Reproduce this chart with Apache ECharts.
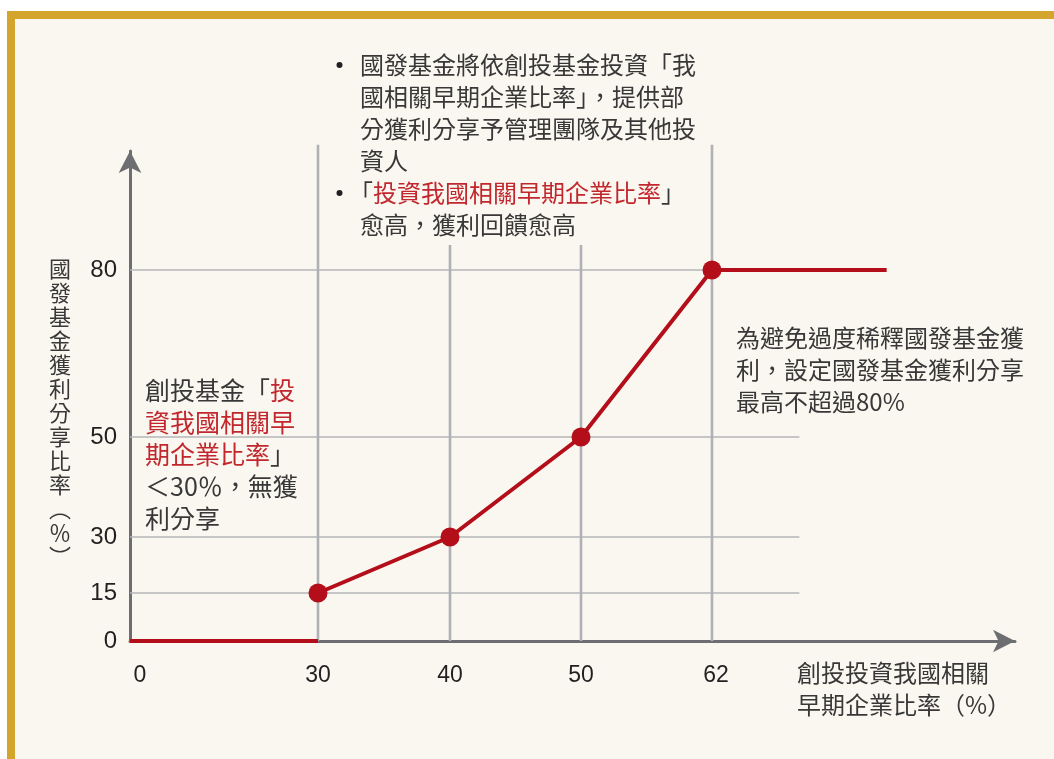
<!DOCTYPE html>
<html>
<head>
<meta charset="utf-8">
<script src="https://cdn.jsdelivr.net/npm/echarts@6/dist/echarts.min.js"></script>
<style>
  html, body { margin: 0; padding: 0; background: #ffffff; }
  #frame { position: absolute; left: 7px; top: 11px; right: 0; bottom: 0;
           border-top: 8px solid #d4a52c; border-left: 8px solid #d4a52c; background: #faf7f0; }
  #chart { position: absolute; left: 0; top: 0; width: 1054px; height: 759px; }
</style>
</head>
<body>
<div id="frame"></div>
<div id="chart"></div>
<script>
// ---- data ----
const xTicks = [0, 30, 40, 50, 62];
const yTicks = [0, 15, 30, 50, 80];
const zeroSegX = [0, 30];
const zeroSegY = [0, 0];
const curveX = [30, 40, 50, 62];
const curveY = [15, 30, 50, 80];
const capX = [62, 78];
const capY = [80, 80];

// ---- schematic (piecewise) layout of the axes ----
const X0 = 130, Y0 = 641;
const xTickPx = [0, 188, 320, 451, 582];
const yTickPx = [0, 48, 104, 204, 371];
const xAxisLen = 885, yAxisLen = 490;
const guideXEnd = 70;           // horizontal guides stop here (x data units)
const guideTopTall = 102.5;     // top of guides at 30 and 62 (y data units)
const guideTopShort = 84.5;     // top of guides at 40 and 50

function pw(v, d, p) {
  let i = 0;
  while (i < d.length - 2 && v > d[i + 1]) i++;
  return p[i] + (v - d[i]) * (p[i + 1] - p[i]) / (d[i + 1] - d[i]);
}
const mx = v => pw(v, xTicks, xTickPx);
const my = v => pw(v, yTicks, yTickPx);
const pts = (xs, ys) => xs.map((x, i) => [mx(x), my(ys[i])]);

function tickLabel(ticks, map, isX) {
  return function (val) {
    for (let i = 0; i < ticks.length; i++) {
      if (Math.abs(map(ticks[i]) - val) < 0.5) {
        if (isX && i === 0) return '{z|' + ticks[i] + '}';
        if (isX && i === ticks.length - 1) return '{e|' + ticks[i] + '}';
        return String(ticks[i]);
      }
    }
    return '';
  };
}

const RED = '#b30e19';
const TXT = '#383838';
const CJK = '"Noto Sans CJK TC", "Noto Sans CJK SC", sans-serif';
const NUM = '"Liberation Sans", Arial, sans-serif';

const series = [];
// horizontal guides
yTicks.slice(1).forEach(y => {
  series.push({ type: 'line', silent: true, clip: false, symbol: 'none', z: 1,
    lineStyle: { color: '#b4b6b9', width: 1.6 },
    data: [[mx(0), my(y)], [mx(guideXEnd), my(y)]] });
});
// vertical guides
xTicks.slice(1).forEach(x => {
  const top = (x === 30 || x === 62) ? guideTopTall : guideTopShort;
  series.push({ type: 'line', silent: true, clip: false, symbol: 'none', z: 1,
    lineStyle: { color: '#afb1b4', width: 2.6 },
    data: [[mx(x), my(0)], [mx(x), my(top)]] });
});
// red profit-sharing line
series.push({ type: 'line', clip: false, symbol: 'none', z: 5,
  lineStyle: { color: RED, width: 4, cap: 'butt' }, data: pts(zeroSegX, zeroSegY) });
series.push({ type: 'line', clip: false, symbol: 'none', z: 5,
  lineStyle: { color: RED, width: 4 }, data: pts(capX, capY) });
series.push({ type: 'line', clip: false, symbol: 'circle', symbolSize: 19, z: 6,
  itemStyle: { color: RED }, lineStyle: { color: RED, width: 4 }, data: pts(curveX, curveY) });

const chart = echarts.init(document.getElementById('chart'));
chart.setOption({
  backgroundColor: 'transparent',
  animation: false,
  grid: { left: X0, top: Y0 - yAxisLen, width: xAxisLen, height: yAxisLen, containLabel: false },
  xAxis: {
    type: 'value', min: 0, max: xAxisLen,
    axisLine: { show: true, symbol: ['none', 'arrow'], symbolSize: [17, 22],
      lineStyle: { color: '#6d6e71', width: 3 } },
    axisTick: { show: false }, splitLine: { show: false },
    axisLabel: { customValues: xTicks.map(mx), formatter: tickLabel(xTicks, mx, true),
      color: '#231f20', fontSize: 23, fontFamily: NUM, margin: 23,
      rich: {
        z: { fontSize: 23, color: '#231f20', fontFamily: NUM, padding: [0, 0, 0, 20] },
        e: { fontSize: 23, color: '#231f20', fontFamily: NUM, padding: [0, 0, 0, 8] }
      } }
  },
  yAxis: {
    type: 'value', min: 0, max: yAxisLen,
    axisLine: { show: true, symbol: ['none', 'arrow'], symbolSize: [17, 22],
      lineStyle: { color: '#6d6e71', width: 3 } },
    axisTick: { show: false }, splitLine: { show: false },
    axisLabel: { customValues: yTicks.map(my), formatter: tickLabel(yTicks, my, false),
      color: '#231f20', fontSize: 24, fontFamily: NUM, margin: 13 }
  },
  graphic: [
    { type: 'text', x: 60, y: 257, style: { text: '國\n發\n基\n金\n獲\n利\n分\n享\n比\n率\n︵\n％\n︶',
      fill: TXT, fontSize: 22, fontFamily: CJK, lineHeight: 24, align: 'center', verticalAlign: 'top' } },
    { type: 'text', x: 797, y: 657, style: { text: '創投投資我國相關\n早期企業比率（%）',
      fill: TXT, fontSize: 24, fontFamily: CJK, lineHeight: 32, align: 'left', verticalAlign: 'top' } },
    { type: 'circle', shape: { cx: 339.5, cy: 65, r: 3 }, style: { fill: '#231f20' } },
    { type: 'circle', shape: { cx: 339.5, cy: 193, r: 3 }, style: { fill: '#231f20' } },
    { type: 'text', x: 360, y: 49, style: { text: '國發基金將依創投基金投資「我\n國相關早期企業比率」，提供部\n分獲利分享予管理團隊及其他投\n資人',
      fill: TXT, fontSize: 24, fontFamily: CJK, lineHeight: 32, align: 'left', verticalAlign: 'top' } },
    { type: 'text', x: 349, y: 177, style: { text: '「{r|投資我國相關早期企業比率}」',
      fill: TXT, fontSize: 24, fontFamily: CJK, lineHeight: 32, align: 'left', verticalAlign: 'top',
      rich: { r: { fill: '#c1272d', color: '#c1272d', fontSize: 24, fontFamily: CJK, lineHeight: 32 } } } },
    { type: 'text', x: 360, y: 209, style: { text: '愈高，獲利回饋愈高',
      fill: TXT, fontSize: 24, fontFamily: CJK, lineHeight: 32, align: 'left', verticalAlign: 'top' } },
    { type: 'text', x: 145, y: 374, style: { text: '創投基金「{r|投}\n{r|資我國相關早}\n{r|期企業比率}」\n＜30％，無獲\n利分享',
      fill: TXT, fontSize: 25, fontFamily: CJK, lineHeight: 32, align: 'left', verticalAlign: 'top',
      rich: { r: { fill: '#c1272d', color: '#c1272d', fontSize: 25, fontFamily: CJK, lineHeight: 32 } } } },
    { type: 'text', x: 736, y: 322, style: { text: '為避免過度稀釋國發基金獲\n利，設定國發基金獲利分享\n最高不超過80%',
      fill: TXT, fontSize: 24, fontFamily: CJK, lineHeight: 32, align: 'left', verticalAlign: 'top' } }
  ],
  series: series
});
</script>
</body>
</html>
